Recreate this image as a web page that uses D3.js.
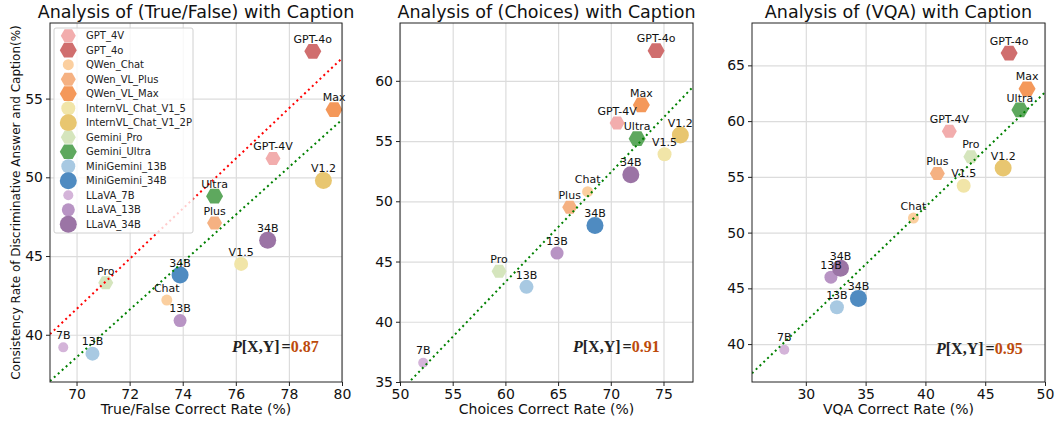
<!DOCTYPE html>
<html>
<head>
<meta charset="utf-8">
<script src="https://cdn.jsdelivr.net/npm/d3@7"></script>
<style>
  body { margin: 0; background: #fff; }
  svg { display: block; font-family: "DejaVu Sans", sans-serif; }
</style>
</head>
<body>
<svg id="chart" width="1055" height="423"></svg>
<script>
// ---- data ----
const models = ["GPT_4V","GPT_4o","QWen_Chat","QWen_VL_Plus","QWen_VL_Max","InternVL_Chat_V1_5",
  "InternVL_Chat_V1_2P","Gemini_Pro","Gemini_Ultra","MiniGemini_13B","MiniGemini_34B",
  "LLaVA_7B","LLaVA_13B","LLaVA_34B"];
const shortLabels = ["GPT-4V","GPT-4o","Chat","Plus","Max","V1.5","V1.2","Pro","Ultra","13B","34B","7B","13B","34B"];

const tfX  = [77.4, 78.9, 73.4, 75.2, 79.7, 76.2, 79.3, 71.1, 75.2, 70.6, 73.9, 69.5, 73.9, 77.2];
const tfY  = [51.2, 58.0, 42.2, 47.1, 54.3, 44.5, 49.8, 43.3, 48.8, 38.8, 43.8, 39.2, 40.9, 46.0];
const choX = [70.6, 74.3, 67.8, 66.1, 72.9, 75.1, 76.6, 59.4, 72.5, 62.0, 68.5, 52.2, 64.9, 71.9];
const choY = [56.5, 62.5, 50.8, 49.5, 58.0, 53.9, 55.5, 44.2, 55.2, 42.9, 48.0, 36.6, 45.7, 52.2];
const vqaX = [42.0, 47.0, 39.0, 41.0, 48.5, 43.2, 46.5, 43.8, 47.9, 32.6, 34.4, 28.2, 32.1, 32.9];
const vqaY = [59.1, 66.1, 51.3, 55.3, 62.9, 54.2, 55.8, 56.8, 61.0, 43.3, 44.1, 39.5, 46.0, 46.8];

const corr = ["0.87", "0.91", "0.95"];
const titles = ["Analysis of (True/False) with Caption", "Analysis of (Choices) with Caption", "Analysis of (VQA) with Caption"];
const xLabels = ["True/False Correct Rate (%)", "Choices Correct Rate (%)", "VQA Correct Rate (%)"];
const yLabel = "Consistency Rate of Discriminative Answer and Caption(%)";

const tfXTicks = [70, 72, 74, 76, 78, 80],  tfYTicks = [40, 45, 50, 55];
const choXTicks = [50, 55, 60, 65, 70, 75], choYTicks = [35, 40, 45, 50, 55, 60];
const vqaXTicks = [30, 35, 40, 45, 50],     vqaYTicks = [40, 45, 50, 55, 60, 65];

// trend lines (end points)
const greenTF  = [[69, 37.06], [80, 53.66]];
const redTF    = [[69, 40.04], [80, 57.56]];
const greenCho = [[50, 34.2], [77.8, 59.5]];
const greenVqa = [[25.5, 37.38], [50, 62.58]];

// ---- marker style ----
const style = {
  GPT_4V:              {shape: "hex", r: 7.5, color: "#f2adad"},
  GPT_4o:              {shape: "hex", r: 8.5, color: "#d06e6e"},
  QWen_Chat:           {shape: "circle", r: 5.5, color: "#fbcf9f"},
  QWen_VL_Plus:        {shape: "hex", r: 7.5, color: "#f5b182"},
  QWen_VL_Max:         {shape: "hex", r: 8.5, color: "#f4985a"},
  InternVL_Chat_V1_5:  {shape: "circle", r: 7, color: "#f1e5a8"},
  InternVL_Chat_V1_2P: {shape: "circle", r: 8.5, color: "#e8c670"},
  Gemini_Pro:          {shape: "hex", r: 7.5, color: "#d5e5bd"},
  Gemini_Ultra:        {shape: "hex", r: 8.5, color: "#5ea85e"},
  MiniGemini_13B:      {shape: "circle", r: 7, color: "#a8c9e2"},
  MiniGemini_34B:      {shape: "circle", r: 8.5, color: "#4f8bc1"},
  LLaVA_7B:            {shape: "circle", r: 5, color: "#d4b4d9"},
  LLaVA_13B:           {shape: "circle", r: 6.5, color: "#b894c4"},
  LLaVA_34B:           {shape: "circle", r: 8.5, color: "#9b74a5"}
};

const svg = d3.select("#chart");
const plotTop = 23, plotBottom = 382;

const panels = [
  {left: 50, right: 342, xd: [69, 80], yd: [37, 59.8], xs: tfX, ys: tfY, xt: tfXTicks, yt: tfYTicks,
   lines: [{pts: redTF, color: "#ff0000"}, {pts: greenTF, color: "#008000"}], p: [232, 352]},
  {left: 400, right: 693, xd: [50, 77.8], yd: [35, 64.8], xs: choX, ys: choY, xt: choXTicks, yt: choYTicks,
   lines: [{pts: greenCho, color: "#008000"}], p: [573, 352]},
  {left: 752, right: 1045, xd: [25.5, 50], yd: [36.6, 68.8], xs: vqaX, ys: vqaY, xt: vqaXTicks, yt: vqaYTicks,
   lines: [{pts: greenVqa, color: "#008000"}], p: [936, 354]}
];

function hexPath(r) {
  const pts = d3.range(6).map(i => [r * Math.cos(i * Math.PI / 3), r * Math.sin(i * Math.PI / 3)]);
  return "M" + pts.map(p => p.join(",")).join("L") + "Z";
}
function drawMarker(g, m, x, y) {
  const s = style[m];
  if (s.shape === "hex") {
    g.append("path").attr("d", hexPath(s.r)).attr("transform", `translate(${x},${y})`).attr("fill", s.color);
  } else {
    g.append("circle").attr("cx", x).attr("cy", y).attr("r", s.r).attr("fill", s.color);
  }
}

panels.forEach((P, k) => {
  const x = d3.scaleLinear().domain(P.xd).range([P.left, P.right]);
  const y = d3.scaleLinear().domain(P.yd).range([plotBottom, plotTop]);
  const g = svg.append("g");
  const clipId = "clip" + k;
  svg.append("clipPath").attr("id", clipId).append("rect")
    .attr("x", P.left).attr("y", plotTop).attr("width", P.right - P.left).attr("height", plotBottom - plotTop);

  // grid
  g.append("g").attr("transform", `translate(0,${plotBottom})`)
    .call(d3.axisBottom(x).tickValues(P.xt).tickSize(-(plotBottom - plotTop)).tickFormat(""))
    .call(a => a.select(".domain").remove())
    .call(a => a.selectAll("line").attr("stroke", "#dcdcdc").attr("stroke-width", 1.2));
  g.append("g").attr("transform", `translate(${P.left},0)`)
    .call(d3.axisLeft(y).tickValues(P.yt).tickSize(-(P.right - P.left)).tickFormat(""))
    .call(a => a.select(".domain").remove())
    .call(a => a.selectAll("line").attr("stroke", "#dcdcdc").attr("stroke-width", 1.2));

  // axes with labels
  const xa = g.append("g").attr("transform", `translate(0,${plotBottom})`)
    .call(d3.axisBottom(x).tickValues(P.xt).tickSize(4).tickPadding(3).tickFormat(d3.format("d")));
  const ya = g.append("g").attr("transform", `translate(${P.left},0)`)
    .call(d3.axisLeft(y).tickValues(P.yt).tickSize(4).tickPadding(3).tickFormat(d3.format("d")));
  [xa, ya].forEach(a => {
    a.select(".domain").remove();
    a.selectAll("text").attr("font-size", 14).attr("font-family", "DejaVu Sans").attr("fill", "#111");
    a.selectAll("line").attr("stroke", "#222");
  });

  // markers
  const mg = g.append("g").attr("clip-path", `url(#${clipId})`);
  models.forEach((m, i) => drawMarker(mg, m, x(P.xs[i]), y(P.ys[i])));

  // trend lines
  P.lines.forEach(L => {
    mg.append("line")
      .attr("x1", x(L.pts[0][0])).attr("y1", y(L.pts[0][1]))
      .attr("x2", x(L.pts[1][0])).attr("y2", y(L.pts[1][1]))
      .attr("stroke", L.color).attr("stroke-width", 2).attr("stroke-dasharray", "2,3.3");
  });

  // point labels
  models.forEach((m, i) => {
    g.append("text").attr("x", x(P.xs[i])).attr("y", y(P.ys[i]) - 8.3)
      .attr("text-anchor", "middle").attr("font-size", 11).attr("fill", "#111")
      .text(shortLabels[i]);
  });

  // frame
  g.append("rect").attr("x", P.left).attr("y", plotTop)
    .attr("width", P.right - P.left).attr("height", plotBottom - plotTop)
    .attr("fill", "none").attr("stroke", "#222").attr("stroke-width", 1);

  // titles
  g.append("text").attr("x", (P.left + P.right) / 2).attr("y", 18)
    .attr("text-anchor", "middle").attr("font-size", 17.5).attr("fill", "#111").text(titles[k]);
  g.append("text").attr("x", (P.left + P.right) / 2).attr("y", 414)
    .attr("text-anchor", "middle").attr("font-size", 14).attr("fill", "#111").text(xLabels[k]);

  // correlation text
  const t = g.append("text").attr("x", P.p[0]).attr("y", P.p[1])
    .attr("font-family", "Liberation Serif, serif").attr("font-size", 16).attr("font-weight", "bold");
  t.append("tspan").attr("font-style", "italic").attr("fill", "#222").text("P");
  t.append("tspan").attr("fill", "#222").text("[X,Y]");
  t.append("tspan").attr("fill", "#222").attr("dx", 2).text("=");
  t.append("tspan").attr("fill", "#bd4b0b").text(corr[k]);
});

// y label on first panel
svg.append("text").attr("transform", `translate(20,${(plotTop + plotBottom) / 2}) rotate(-90)`)
  .attr("text-anchor", "middle").attr("font-size", 12).attr("fill", "#111").text(yLabel);

// legend
const lg = svg.append("g");
lg.append("rect").attr("x", 54).attr("y", 28).attr("width", 139).attr("height", 205)
  .attr("rx", 2).attr("fill", "#fff").attr("fill-opacity", 0.8).attr("stroke", "#d0d0d0");
const rowY = d3.scaleLinear().domain([0, models.length - 1]).range([35.7, 224.3]);
models.forEach((m, i) => {
  drawMarker(lg, m, 68.3, rowY(i));
  lg.append("text").attr("x", 86).attr("y", rowY(i)).attr("dy", "0.35em")
    .attr("font-size", 10).attr("fill", "#222").text(m);
});
</script>
</body>
</html>
